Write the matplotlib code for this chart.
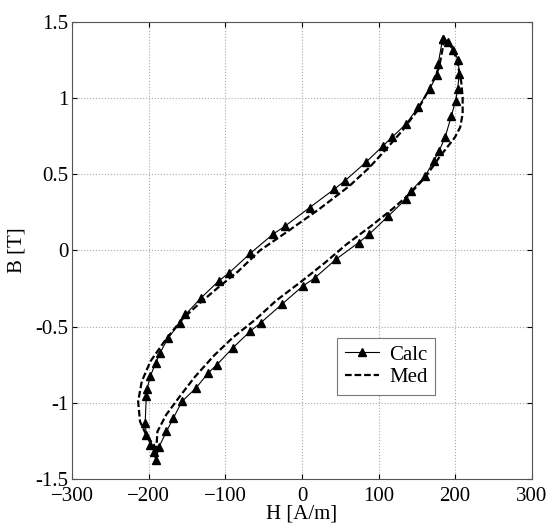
import matplotlib
matplotlib.use('Agg')
import matplotlib.pyplot as plt

plt.rcParams['font.family'] = ['Liberation Serif', 'DejaVu Serif']

# Calc curve, going down the upper branch then up the lower one
calc_h = [183.7, 177.8, 176.0, 166.8, 151.7, 135.7, 117.5, 106.0, 83.2, 55.8, 42.0, 10.0,
          -21.9, -37.9, -67.6, -95.0, -108.8, -131.6, -152.2, -159.0, -175.0, -185.0,
          -191.0, -198.0, -202.5, -203.4, -204.8, -203.4, -198.0, -193.0, -191.0,
          -186.5, -177.0, -168.0, -156.8, -138.5, -122.5, -111.0, -90.5, -67.6, -54.0,
          -26.5, 1.0, 17.0, 44.3, 74.0, 87.8, 112.9, 135.7, 142.6, 160.9, 172.3, 179.2,
          186.9, 195.2, 200.6, 203.4, 205.2, 204.3, 197.4, 190.6, 183.7]
calc_b = [1.39, 1.226, 1.149, 1.061, 0.94, 0.83, 0.743, 0.688, 0.578, 0.457, 0.402, 0.282,
          0.161, 0.107, -0.019, -0.146, -0.2, -0.31, -0.42, -0.475, -0.574, -0.67,
          -0.736, -0.824, -0.91, -0.957, -1.133, -1.21, -1.275, -1.32, -1.374,
          -1.287, -1.188, -1.1, -0.991, -0.903, -0.804, -0.749, -0.64, -0.53, -0.475,
          -0.354, -0.234, -0.179, -0.058, 0.052, 0.107, 0.227, 0.337, 0.392, 0.49, 0.589, 0.655,
          0.743, 0.886, 0.984, 1.061, 1.16, 1.248, 1.314, 1.369, 1.39]

# Med curve
med_h = [186.0, 179.0, 163.0, 149.5, 131.0, 110.0, 88.0, 62.0, 22.0, -18.0, -55.0, -83.0,
         -110.0, -133.0, -157.0, -179.6, -198.0, -209.3, -214.0, -211.6, -202.5, -193.3,
         -191.0, -188.8, -177.3, -158.0, -140.0, -115.0, -90.0, -60.0, -34.0, 0.0, 30.0,
         58.0, 90.0, 117.5, 140.3, 160.9, 179.2, 192.9, 199.7, 206.6, 209.8, 209.8, 208.0,
         202.0, 195.2, 186.0]
med_b = [1.39, 1.2, 1.03, 0.91, 0.787, 0.666, 0.545, 0.424, 0.27, 0.128, 0.0, -0.135,
         -0.245, -0.343, -0.453, -0.596, -0.728, -0.86, -0.991, -1.122, -1.221, -1.276,
         -1.36, -1.188, -1.078, -0.947, -0.83, -0.69, -0.57, -0.45, -0.33, -0.2, -0.08,
         0.04, 0.16, 0.27, 0.37, 0.48, 0.611, 0.699, 0.743, 0.809, 0.897, 1.006, 1.105,
         1.259, 1.336, 1.39]

x_ticks = [-300, -200, -100, 0, 100, 200, 300]
y_ticks = [-1.5, -1, -0.5, 0, 0.5, 1, 1.5]
y_labels = ['-1.5', '-1', '-0.5', '0', '0.5', '1', '1.5']

fig = plt.figure(figsize=(5.49, 5.24), dpi=100)
ax = fig.add_axes([0.1317, 0.0859, 0.8368, 0.8721])

ax.plot(calc_h, calc_b, 'k-', lw=0.8, marker='^', ms=5.5, label='Calc')
ax.plot(med_h, med_b, 'k--', lw=1.6, dashes=(3, 1.3), label='Med')

ax.set_xlim(-300, 300)
ax.set_ylim(-1.5, 1.5)
ax.set_xticks(x_ticks)
ax.set_yticks(y_ticks)
ax.set_yticklabels(y_labels, va='center_baseline')
ax.grid(True, color='#aaaaaa', linestyle=':', linewidth=0.8)
ax.tick_params(direction='in', top=True, right=True, length=3.6, labelsize=15, pad=3)
ax.tick_params(axis='x', pad=5.5)
for s in ax.spines.values():
    s.set_linewidth(0.8)
    s.set_color('#555555')

ax.set_xlabel('H [A/m]', fontsize=15, labelpad=-0.5)
ax.set_ylabel('B [T]', fontsize=15, labelpad=6)

leg = ax.legend(loc='lower right', bbox_to_anchor=(0.8128, 0.162), fontsize=15,
                fancybox=False, framealpha=1, edgecolor='#777777',
                handlelength=1.65, handletextpad=0.5, borderpad=0.35, labelspacing=0.15)
leg.get_frame().set_linewidth(0.8)

fig.savefig('out.png', dpi=100)
